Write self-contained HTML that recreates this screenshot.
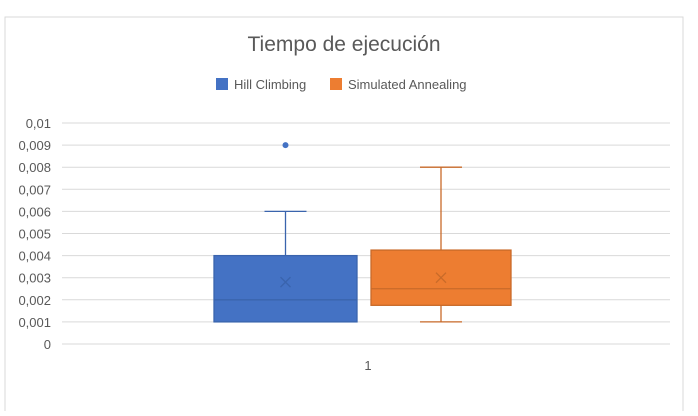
<!DOCTYPE html>
<html><head><meta charset="utf-8"><style>
body{margin:0;background:#fff;font-family:"Liberation Sans",sans-serif}
svg text{font-family:"Liberation Sans",sans-serif;fill:#595959}
</style></head><body>
<svg width="698" height="411">
<rect x="5" y="17" width="678" height="400" fill="#fff" stroke="#d9d9d9"/>
<text x="344" y="51" font-size="21" text-anchor="middle">Tiempo de ejecución</text>
<g>
<rect x="216" y="78" width="12" height="12" fill="#4472c4"/>
<text x="234" y="89" font-size="13">Hill Climbing</text>
<rect x="330" y="78" width="12" height="12" fill="#ed7d31"/>
<text x="348" y="89" font-size="13">Simulated Annealing</text>
</g>
<g id="grid"></g><g id="marks"></g>
<text x="368" y="370" font-size="13" text-anchor="middle">1</text>
</svg>
<script>
const ticks=[0,0.001,0.002,0.003,0.004,0.005,0.006,0.007,0.008,0.009,0.01];
const tickLabels=["0","0,001","0,002","0,003","0,004","0,005","0,006","0,007","0,008","0,009","0,01"];
const series=["Hill Climbing","Simulated Annealing"];
const minV=[0.001,0.001];
const q1V=[0.001,0.00175];
const medV=[0.002,0.0025];
const q3V=[0.004,0.00425];
const maxV=[0.006,0.008];
const meanV=[0.0028,0.003];
const outliers=[[0.009],[]];
const colors=["#4472c4","#ed7d31"],strokes=["#3a64ad","#c86a29"];
const NS="http://www.w3.org/2000/svg";
const y=v=>344-v/0.01*221;
const g=document.getElementById('grid'),m=document.getElementById('marks');
function mk(p,t,a){const e=document.createElementNS(NS,t);for(const k in a)e.setAttribute(k,a[k]);p.appendChild(e);return e;}
ticks.forEach((t,i)=>{
 const l=mk(g,'line',{x1:62,x2:670,y1:y(t),y2:y(t),stroke:'#d9d9d9','stroke-width':1});
 
 
 const tx=mk(g,'text',{x:51,y:y(t)+5,'font-size':13,'text-anchor':'end'});tx.textContent=tickLabels[i];
 
 
});
const bx=[214,371],bw=[143,140];
series.forEach((s,i)=>{
 const x0=bx[i],w=bw[i],cx=x0+w/2,c=colors[i],st=strokes[i];
 const grp=mk(m,'g',{});
 
 
 mk(grp,'line',{x1:cx,x2:cx,y1:y(maxV[i]),y2:y(q3V[i]),stroke:st,'stroke-width':1.3});
 mk(grp,'line',{x1:cx,x2:cx,y1:y(q1V[i]),y2:y(minV[i]),stroke:st,'stroke-width':1.3});
 mk(grp,'line',{x1:cx-21,x2:cx+21,y1:y(maxV[i]),y2:y(maxV[i]),stroke:st,'stroke-width':1.3});
 mk(grp,'line',{x1:cx-21,x2:cx+21,y1:y(minV[i]),y2:y(minV[i]),stroke:st,'stroke-width':1.3});
 mk(grp,'rect',{x:x0,y:y(q3V[i]),width:w,height:y(q1V[i])-y(q3V[i]),fill:c,stroke:st,'stroke-width':1.3});
 mk(grp,'line',{x1:x0,x2:x0+w,y1:y(medV[i]),y2:y(medV[i]),stroke:st,'stroke-width':1.3});
 const my=y(meanV[i]);
 mk(grp,'path',{d:`M${cx-5} ${my-5}L${cx+5} ${my+5}M${cx+5} ${my-5}L${cx-5} ${my+5}`,stroke:st,'stroke-width':1.3});
 outliers[i].forEach(o=>{const ci=mk(grp,'circle',{cx:cx,cy:y(o),r:3,fill:c});
  
  });
});
</script>
</body></html>
